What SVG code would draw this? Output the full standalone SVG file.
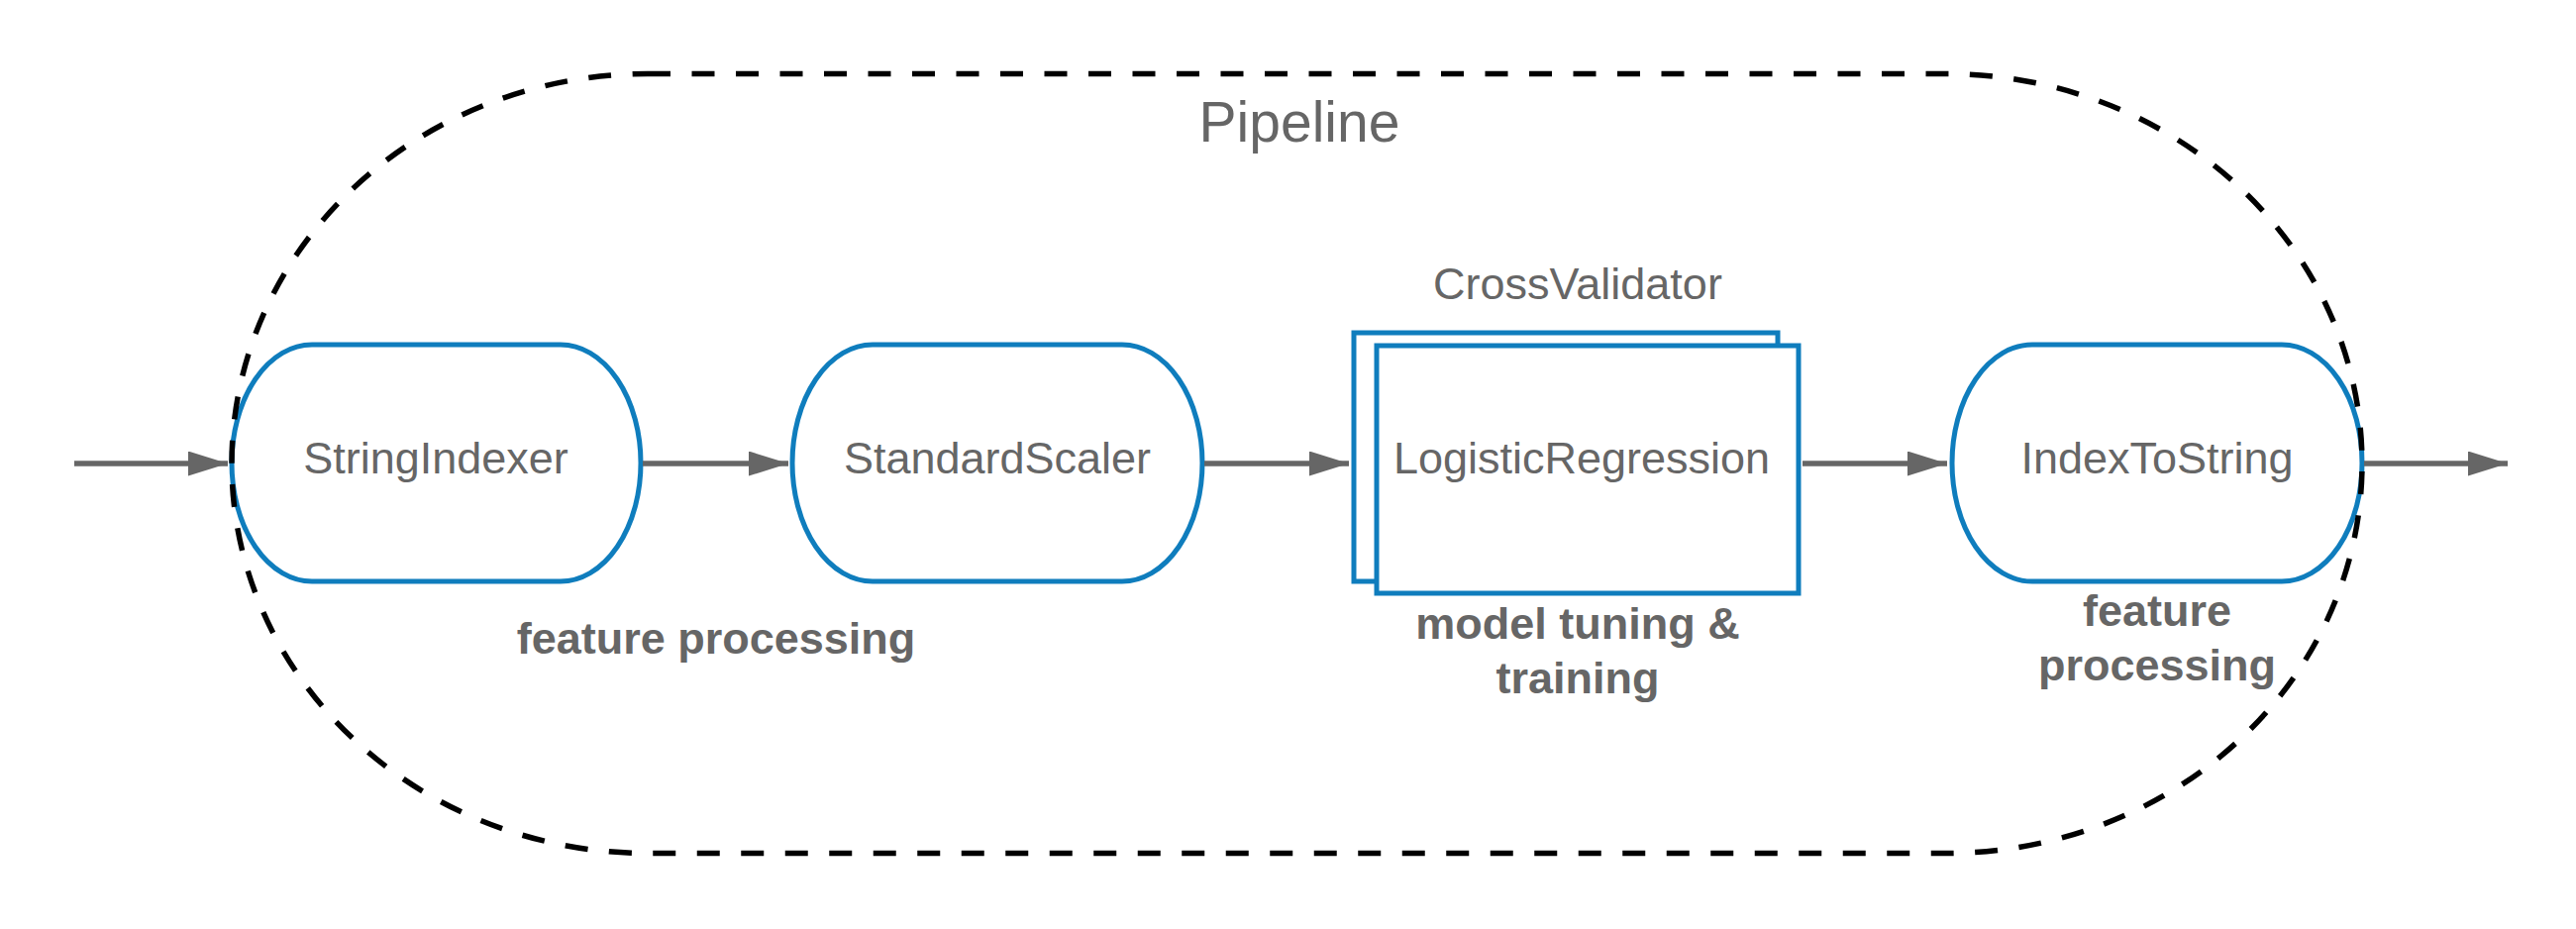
<svg xmlns="http://www.w3.org/2000/svg" width="2601" height="938" viewBox="0 0 2601 938">
<defs>
<style>
.node{fill:#ffffff;stroke:#0f7dbd;stroke-width:5}
.lbl{font-family:"Liberation Sans",Arial,sans-serif;font-size:45px;fill:#666666;text-anchor:middle}
.bold{font-family:"Liberation Sans",Arial,sans-serif;font-size:45px;font-weight:bold;fill:#666666;text-anchor:middle}
.title{font-family:"Liberation Sans",Arial,sans-serif;font-size:57px;fill:#666666;text-anchor:middle}
.edge{stroke:#666666;stroke-width:5.5;fill:none}
.container{fill:none;stroke:#000000;stroke-width:5.5;stroke-dasharray:23 21.5}
</style>
<marker id="arrow" markerUnits="userSpaceOnUse" markerWidth="44" markerHeight="28" refX="40" refY="12.5" orient="auto">
<path d="M0,0 L40,12.5 L0,25 Z" fill="#666666"/>
</marker>
</defs>
<rect width="2601" height="938" fill="#ffffff"/>

<g id="node-stringindexer">
<rect class="node" x="234" y="348" width="413" height="239" rx="81" ry="119.5"/>
<text class="lbl" x="440" y="478">StringIndexer</text>
</g>
<g id="node-standardscaler">
<rect class="node" x="800" y="348" width="414" height="239" rx="81" ry="119.5"/>
<text class="lbl" x="1007" y="478">StandardScaler</text>
</g>
<g id="node-crossvalidator">
<text class="lbl" x="1593" y="302">CrossValidator</text>
<rect class="node" x="1367" y="336" width="428" height="251"/>
<rect class="node" x="1390" y="349" width="426" height="250"/>
<text class="lbl" x="1597" y="478">LogisticRegression</text>
</g>
<g id="node-indextostring">
<rect class="node" x="1971" y="348" width="414" height="239" rx="81" ry="119.5"/>
<text class="lbl" x="2178" y="478">IndexToString</text>
</g>

<g id="pipeline">
<rect class="container" x="234" y="74.5" width="2151" height="787" rx="420" ry="393.5"/>
<text class="title" x="1312" y="143">Pipeline</text>
</g>

<g id="labels">
<text class="bold" x="723" y="660">feature processing</text>
<text class="bold" x="1593" y="645">model tuning &amp;</text>
<text class="bold" x="1593" y="700">training</text>
<text class="bold" x="2178" y="632">feature</text>
<text class="bold" x="2178" y="687">processing</text>
</g>

<g id="connectors">
<line class="edge" x1="75" y1="468" x2="230" y2="468" marker-end="url(#arrow)"/>
<line class="edge" x1="649" y1="468" x2="796" y2="468" marker-end="url(#arrow)"/>
<line class="edge" x1="1216" y1="468" x2="1362" y2="468" marker-end="url(#arrow)"/>
<line class="edge" x1="1820" y1="468" x2="1966" y2="468" marker-end="url(#arrow)"/>
<line class="edge" x1="2387" y1="468" x2="2532" y2="468" marker-end="url(#arrow)"/>
</g>
</svg>
